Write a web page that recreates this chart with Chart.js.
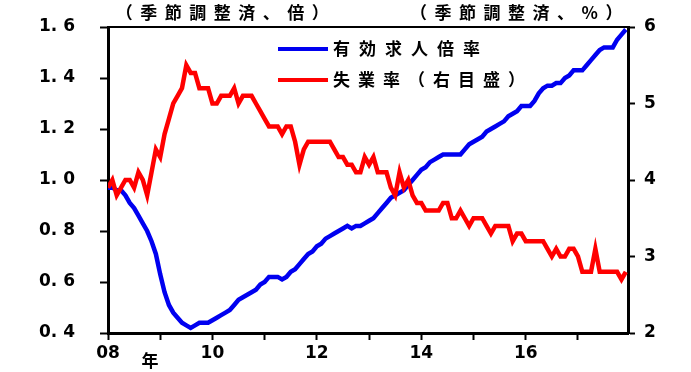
<!DOCTYPE html>
<html>
<head>
<meta charset="utf-8">
<script src="https://cdn.jsdelivr.net/npm/chart.js@4.4.1/dist/chart.umd.min.js"></script>
<style>
  html, body { margin: 0; padding: 0; background: #fff; }
  canvas { display: block; }
</style>
</head>
<body>
<canvas id="chart" width="691" height="372"></canvas>
<script>
// monthly, Jan 2008 .. Dec 2017 (month index 0..119)
const jobRatio = [
  0.97, 0.97, 0.96, 0.96, 0.94, 0.91, 0.89, 0.86, 0.83, 0.80, 0.76, 0.71,
  0.63, 0.56, 0.51, 0.48, 0.46, 0.44, 0.43, 0.42, 0.43, 0.44, 0.44, 0.44,
  0.45, 0.46, 0.47, 0.48, 0.49, 0.51, 0.53, 0.54, 0.55, 0.56, 0.57, 0.59,
  0.60, 0.62, 0.62, 0.62, 0.61, 0.62, 0.64, 0.65, 0.67, 0.69, 0.71, 0.72,
  0.74, 0.75, 0.77, 0.78, 0.79, 0.80, 0.81, 0.82, 0.81, 0.82, 0.82, 0.83,
  0.84, 0.85, 0.87, 0.89, 0.91, 0.93, 0.94, 0.95, 0.96, 0.98, 1.00, 1.02,
  1.04, 1.05, 1.07, 1.08, 1.09, 1.10, 1.10, 1.10, 1.10, 1.10, 1.12, 1.14,
  1.15, 1.16, 1.17, 1.19, 1.20, 1.21, 1.22, 1.23, 1.25, 1.26, 1.27, 1.29,
  1.29, 1.29, 1.31, 1.34, 1.36, 1.37, 1.37, 1.38, 1.38, 1.40, 1.41, 1.43,
  1.43, 1.43, 1.45, 1.47, 1.49, 1.51, 1.52, 1.52, 1.52, 1.55, 1.57, 1.59
];
const unemployment = [
  3.9, 4.0, 3.8, 3.9, 4.0, 4.0, 3.9, 4.1, 4.0, 3.8, 4.1, 4.4,
  4.3, 4.6, 4.8, 5.0, 5.1, 5.2, 5.5, 5.4, 5.4, 5.2, 5.2, 5.2,
  5.0, 5.0, 5.1, 5.1, 5.1, 5.2, 5.0, 5.1, 5.1, 5.1, 5.0, 4.9,
  4.8, 4.7, 4.7, 4.7, 4.6, 4.7, 4.7, 4.5, 4.2, 4.4, 4.5, 4.5,
  4.5, 4.5, 4.5, 4.5, 4.4, 4.3, 4.3, 4.2, 4.2, 4.1, 4.1, 4.3,
  4.2, 4.3, 4.1, 4.1, 4.1, 3.9, 3.8, 4.1, 3.9, 4.0, 3.8, 3.7,
  3.7, 3.6, 3.6, 3.6, 3.6, 3.7, 3.7, 3.5, 3.5, 3.6, 3.5, 3.4,
  3.5, 3.5, 3.5, 3.4, 3.3, 3.4, 3.4, 3.4, 3.4, 3.2, 3.3, 3.3,
  3.2, 3.2, 3.2, 3.2, 3.2, 3.1, 3.0, 3.1, 3.0, 3.0, 3.1, 3.1,
  3.0, 2.8, 2.8, 2.8, 3.1, 2.8, 2.8, 2.8, 2.8, 2.8, 2.7, 2.8
];
const yearTicks = [0, 12, 24, 36, 48, 60, 72, 84, 96, 108];
const yearLabels = ["08", "", "10", "", "12", "", "14", "", "16", ""];
const leftTicks = [0.4, 0.6, 0.8, 1.0, 1.2, 1.4, 1.6];
const leftLabels = ["0. 4", "0. 6", "0. 8", "1. 0", "1. 2", "1. 4", "1. 6"];
const rightTicks = [2, 3, 4, 5, 6];
const rightLabels = ["2", "3", "4", "5", "6"];

const CJK = "'Noto Sans CJK JP', sans-serif";
const NUM = "'DejaVu Sans', sans-serif";
const BLUE = "#0000f0";
const RED = "#ff0000";

const toPoints = (arr) => arr.map((v, i) => ({ x: i, y: v }));

const annotations = {
  id: "annotations",
  afterDatasetsDraw(chart) {
    const { ctx, chartArea } = chart;
    ctx.save();
    // top frame line
    ctx.strokeStyle = "#000";
    ctx.lineWidth = 2;
    ctx.beginPath();
    ctx.moveTo(chartArea.left, chartArea.top);
    ctx.lineTo(chartArea.right, chartArea.top);
    ctx.stroke();

    ctx.fillStyle = "#000";
    ctx.textBaseline = "middle";
    ctx.font = `bold 17px ${CJK}`;

    ctx.letterSpacing = "7.5px";
    ctx.textAlign = "center";
    ctx.fillText("（季節調整済、倍）", 226, 13);
    ctx.fillText("（季節調整済、%）", 520, 13);

    ctx.textAlign = "left";
    ctx.letterSpacing = "9px";
    ctx.fillText("有効求人倍率", 333, 49);
    ctx.letterSpacing = "8px";
    ctx.fillText("失業率（右目盛）", 333, 80);

    ctx.letterSpacing = "0px";
    ctx.textAlign = "center";
    ctx.fillText("年", 150, 361);

    ctx.lineWidth = 4;
    ctx.strokeStyle = BLUE;
    ctx.beginPath(); ctx.moveTo(278, 49); ctx.lineTo(328, 49); ctx.stroke();
    ctx.strokeStyle = RED;
    ctx.beginPath(); ctx.moveTo(278, 80); ctx.lineTo(328, 80); ctx.stroke();
    ctx.restore();
  }
};

const tickFont = { family: NUM, size: 17, weight: "bold" };
const noPad = (w) => (s) => { s.width = w; s.paddingTop = 0; s.paddingBottom = 0; };

new Chart(document.getElementById("chart"), {
  type: "line",
  data: {
    datasets: [
      {
        label: "失業率（右目盛）",
        data: toPoints(unemployment),
        borderColor: RED,
        borderWidth: 4.5,
        pointRadius: 0,
        yAxisID: "yR",
        order: 0,
      },
      {
        label: "有効求人倍率",
        data: toPoints(jobRatio),
        borderColor: BLUE,
        borderWidth: 4.5,
        pointRadius: 0,
        yAxisID: "yL",
        order: 1,
      },
    ],
  },
  options: {
    responsive: false,
    animation: false,
    layout: { padding: { top: 27, left: 0, right: 0, bottom: 0 } },
    plugins: { legend: { display: false }, tooltip: { enabled: false } },
    scales: {
      x: {
        type: "linear",
        min: 0,
        max: 119.5,
        afterBuildTicks: (s) => { s.ticks = yearTicks.map((v) => ({ value: v })); },
        afterFit: (s) => { s.height = 39; s.paddingLeft = 0; s.paddingRight = 0; },
        ticks: {
          autoSkip: false,
          maxRotation: 0,
          padding: 3,
          color: "#000",
          font: tickFont,
          callback: (v, i) => yearLabels[i],
        },
        grid: { drawOnChartArea: false, tickLength: 7, tickColor: "#000", tickWidth: 2 },
        border: { color: "#000", width: 3 },
      },
      yL: {
        position: "left",
        min: 0.4,
        max: 1.6,
        afterBuildTicks: (s) => { s.ticks = leftTicks.map((v) => ({ value: v })); },
        afterFit: noPad(108),
        ticks: {
          padding: 25,
          color: "#000",
          font: tickFont,
          callback: (v, i) => leftLabels[i],
        },
        grid: { drawOnChartArea: false, tickLength: 8, tickColor: "#000", tickWidth: 2 },
        border: { color: "#000", width: 3 },
      },
      yR: {
        position: "right",
        min: 2,
        max: 6,
        afterBuildTicks: (s) => { s.ticks = rightTicks.map((v) => ({ value: v })); },
        afterFit: noPad(63),
        ticks: {
          padding: 9,
          color: "#000",
          font: tickFont,
          callback: (v, i) => rightLabels[i],
        },
        grid: { drawOnChartArea: false, tickLength: 7, tickColor: "#000", tickWidth: 2 },
        border: { color: "#000", width: 3 },
      },
    },
  },
  plugins: [annotations],
});
</script>
</body>
</html>
